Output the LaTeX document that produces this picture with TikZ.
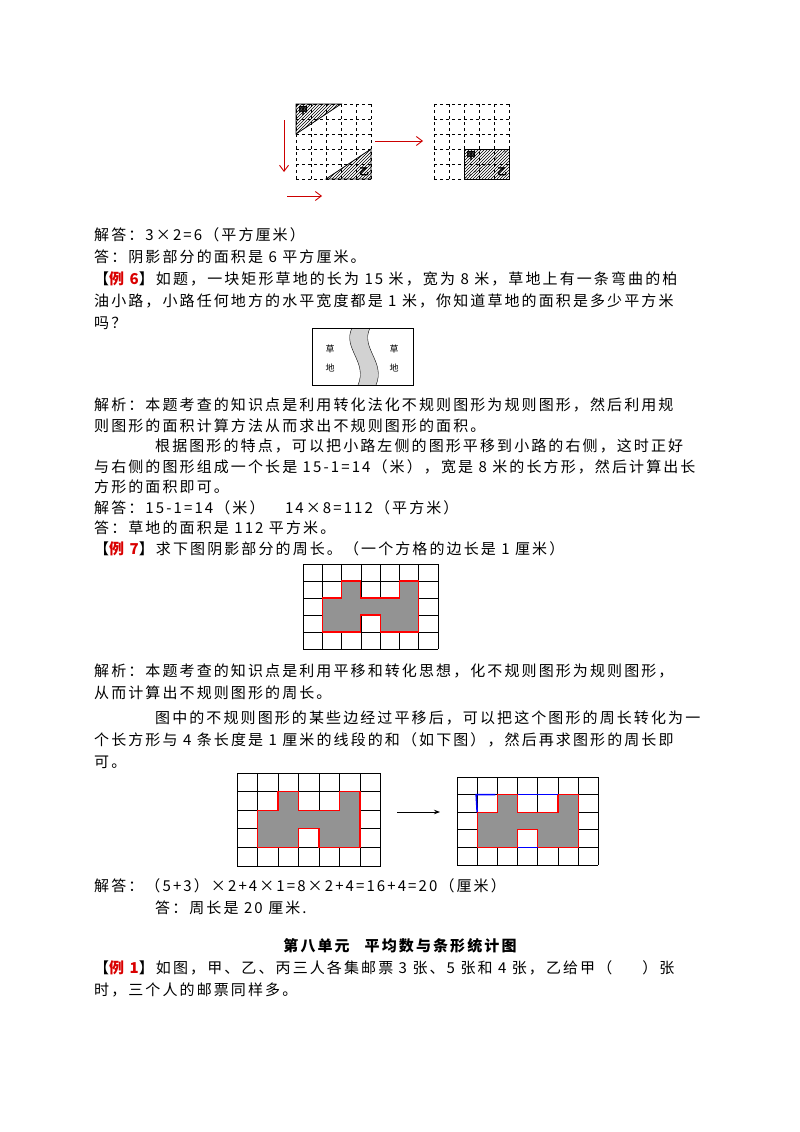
\documentclass[tikz,border=0pt]{standalone}
\usepackage{fontspec}
\setmainfont[LetterSpace=14]{Noto Sans CJK SC}
\usetikzlibrary{patterns,arrows.meta}
\begin{document}
\begin{tikzpicture}[x=1pt,y=-1pt,
  txt/.style={anchor=west,inner sep=0pt,font=\fontsize{15}{15}\selectfont},
  redl/.style={red!80!black,line width=0.9pt},
  bl/.style={blue,line width=1.6pt}]
\def\hl#1{【{\color{red!85!black}\bfseries #1}】}
\def\shapepath{(2,1) -- (3,1) -- (3,2) -- (5,2) -- (5,1) -- (6,1) -- (6,4) -- (4,4) -- (4,3) -- (3,3) -- (3,4) -- (1,4) -- (1,2) -- (2,2) -- cycle}
\def\mygrid{\foreach \i in {0,...,7}{\draw[line width=0.7pt] (\i,0) -- (\i,5);}\foreach \j in {0,...,5}{\draw[line width=0.7pt] (0,\j) -- (7,\j);}}
\useasboundingbox (0,0) rectangle (800,1132);
% ---- top figure
\def\cw{15}
\foreach \i in {0,...,5}{
  \draw[dashed,line width=0.7pt] (296+\i*\cw,104) -- (296+\i*\cw,179);
  \draw[dashed,line width=0.7pt] (296,104+\i*\cw) -- (371,104+\i*\cw);
  \draw[dashed,line width=0.7pt] (434+\i*\cw,104) -- (434+\i*\cw,179);
  \draw[dashed,line width=0.7pt] (434,104+\i*\cw) -- (509,104+\i*\cw);}
\draw[pattern=north east lines,thick] (296,104) -- (341,104) -- (296,134) -- cycle;
\draw[pattern=north east lines,thick] (326,179) -- (371,179) -- (371,149) -- cycle;
\node[inner sep=0pt,font=\fontsize{10}{10}\selectfont\bfseries] (ja) at (303,111) {甲};
\node[inner sep=0pt,font=\fontsize{10}{10}\selectfont\bfseries] (yi) at (364,172) {乙};
\draw[pattern=north east lines,thick] (464,149) rectangle (509,179);
\draw[dashed] (464,179) -- (509,149);
\node[inner sep=0pt,font=\fontsize{10}{10}\selectfont\bfseries] (jb) at (471,156) {甲};
\node[inner sep=0pt,font=\fontsize{10}{10}\selectfont\bfseries] (yb) at (502,172) {乙};
\coordinate (a1) at (284,120); \coordinate (a2) at (284,172);
\coordinate (b1) at (287,196); \coordinate (b2) at (322,196);
\coordinate (c1) at (375,141); \coordinate (c2) at (423,141);
\draw[redl,-{Straight Barb[length=6pt,width=9pt]}] (a1) -- (a2);
\draw[redl,-{Straight Barb[length=6pt,width=9pt]}] (b1) -- (b2);
\draw[redl,-{Straight Barb[length=6pt,width=9pt]}] (c1) -- (c2);
% ---- text
\node[txt] (t1) at (94,235) {解答：3×2=6（平方厘米）};
\node[txt] (t2) at (94,257) {答：阴影部分的面积是 6 平方厘米。};
\node[txt] (t3) at (94,279) {\hl{例 6}如题，一块矩形草地的长为 15 米，宽为 8 米，草地上有一条弯曲的柏};
\node[txt] (t4) at (94,301) {油小路，小路任何地方的水平宽度都是 1 米，你知道草地的面积是多少平方米};
\node[txt] (t5) at (94,323) {吗？};
% grass figure
\draw[fill=gray!35,draw=none] (352,328) .. controls (342,348) and (368,362) .. (358,385) -- (376,385) .. controls (386,362) and (360,348) .. (370,328) -- cycle;
\draw (352,328) .. controls (342,348) and (368,362) .. (358,385);
\draw (370,328) .. controls (360,348) and (386,362) .. (376,385);
\draw[line width=0.8pt] (312,328) rectangle (413,385);
\node[inner sep=0pt,font=\fontsize{9}{9}\selectfont] (g1) at (330,349) {草};
\node[inner sep=0pt,font=\fontsize{9}{9}\selectfont] (g2) at (330,368) {地};
\node[inner sep=0pt,font=\fontsize{9}{9}\selectfont] (g3) at (394,349) {草};
\node[inner sep=0pt,font=\fontsize{9}{9}\selectfont] (g4) at (394,368) {地};
\node[txt] (t6) at (94,405) {解析：本题考查的知识点是利用转化法化不规则图形为规则图形，然后利用规};
\node[txt] (t7) at (94,426) {则图形的面积计算方法从而求出不规则图形的面积。};
\node[txt] (t8) at (155,446) {根据图形的特点，可以把小路左侧的图形平移到小路的右侧，这时正好};
\node[txt] (t9) at (94,467) {与右侧的图形组成一个长是 15-1=14（米），宽是 8 米的长方形，然后计算出长};
\node[txt] (t10) at (94,487) {方形的面积即可。};
\node[txt] (t11) at (94,508) {解答：15-1=14（米）\quad\ 14×8=112（平方米）};
\node[txt] (t12) at (94,528) {答：草地的面积是 112 平方米。};
\node[txt] (t13) at (94,549) {\hl{例 7}求下图阴影部分的周长。（一个方格的边长是 1 厘米）};
% grid 1
\begin{scope}[shift={(303,564)},x=19.3pt,y=-17pt]
\mygrid
\fill[gray!85] \shapepath;
\draw[red,line width=1.1pt] \shapepath;
\end{scope}
\node[txt] (t14) at (94,671) {解析：本题考查的知识点是利用平移和转化思想，化不规则图形为规则图形，};
\node[txt] (t15) at (94,693) {从而计算出不规则图形的周长。};
\node[txt] (t16) at (155,718) {图中的不规则图形的某些边经过平移后，可以把这个图形的周长转化为一};
\node[txt] (t17) at (94,740) {个长方形与 4 条长度是 1 厘米的线段的和（如下图），然后再求图形的周长即};
\node[txt] (t18) at (94,762) {可。};
% grid 2
\begin{scope}[shift={(237,773)},x=20.5pt,y=-18.6pt]
\mygrid
\fill[gray!85] \shapepath;
\draw[red,line width=1.1pt] \shapepath;
\end{scope}
\coordinate (d1) at (397,812); \coordinate (d2) at (440,812);
\draw[-{Stealth[length=6pt]},line width=0.8pt] (d1) -- (d2);
\begin{scope}[shift={(457,777)},x=20.2pt,y=-17.6pt]
\mygrid
\fill[gray!85] \shapepath;
\draw[red,line width=1.1pt] \shapepath;
\draw[bl] (1,2) -- (0.95,1) -- (1.9,1);
\draw[bl] (3,1) -- (5,1);
\draw[bl] (3,4) -- (4,4);
\end{scope}
\node[txt] (t19) at (94,886) {解答：（5+3）×2+4×1=8×2+4=16+4=20（厘米）};
\node[txt] (t20) at (155,908) {答：周长是 20 厘米.};
\node[anchor=center,inner sep=0pt,font=\fontsize{15}{15}\selectfont\bfseries] (t21) at (400,946) {第八单元\quad 平均数与条形统计图};
\node[txt] (t22) at (94,968) {\hl{例 1}如图，甲、乙、丙三人各集邮票 3 张、5 张和 4 张，乙给甲（\quad\quad）张};
\node[txt] (t23) at (94,990) {时，三个人的邮票同样多。};
\end{tikzpicture}
\end{document}
